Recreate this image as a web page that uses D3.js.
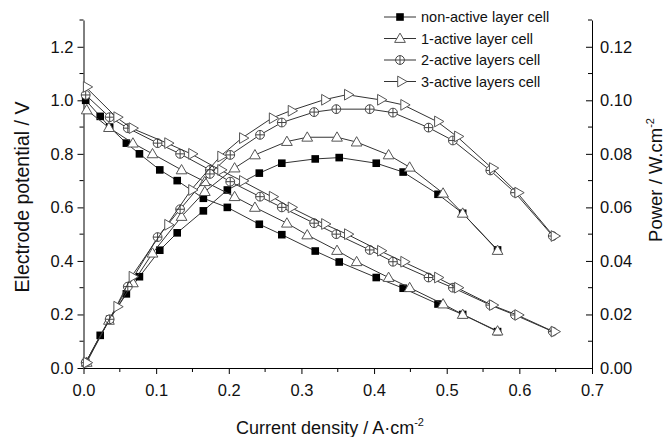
<!DOCTYPE html>
<html>
<head>
<meta charset="utf-8">
<script src="https://cdnjs.cloudflare.com/ajax/libs/d3/7.8.5/d3.min.js"></script>
<style>
  body { margin: 0; background: #fff; }
  svg { font-family: "Liberation Sans", Arial, sans-serif; }
</style>
</head>
<body>
<div id="chart"></div>
<script>
const seriesNames = ['non-active layer cell', '1-active layer cell', '2-active layers cell', '3-active layers cell']

const currentNon = [0.003, 0.023, 0.036, 0.059, 0.077, 0.105, 0.129, 0.165, 0.198, 0.242, 0.273, 0.319, 0.352, 0.403, 0.44, 0.488, 0.522, 0.57]
const voltageNon = [1.00, 0.94, 0.90, 0.84, 0.80, 0.74, 0.70, 0.634, 0.60, 0.537, 0.498, 0.437, 0.396, 0.338, 0.298, 0.239, 0.20, 0.136]
const powerNon = [0.002, 0.0122, 0.0182, 0.0277, 0.0341, 0.044, 0.0505, 0.0587, 0.0665, 0.0728, 0.0765, 0.0781, 0.0786, 0.0765, 0.0732, 0.0649, 0.0578, 0.0441]

const current1 = [0.0044, 0.035, 0.068, 0.095, 0.135, 0.167, 0.208, 0.236, 0.28, 0.308, 0.349, 0.376, 0.42, 0.449, 0.495, 0.522, 0.57]
const voltage1 = [0.964, 0.898, 0.84, 0.80, 0.74, 0.696, 0.64, 0.60, 0.541, 0.497, 0.439, 0.397, 0.338, 0.30, 0.239, 0.20, 0.138]
const power1 = [0.0021, 0.0178, 0.0318, 0.0429, 0.0566, 0.0659, 0.0747, 0.0796, 0.0846, 0.0862, 0.0862, 0.0844, 0.0796, 0.075, 0.0653, 0.0578, 0.0439]

const current2 = [0.003, 0.036, 0.061, 0.102, 0.133, 0.174, 0.202, 0.243, 0.273, 0.3175, 0.348, 0.394, 0.426, 0.475, 0.5085, 0.56, 0.594, 0.646]
const voltage2 = [1.02, 0.937, 0.896, 0.84, 0.80, 0.74, 0.696, 0.64, 0.60, 0.541, 0.50, 0.441, 0.397, 0.338, 0.30, 0.235, 0.198, 0.136]
const power2 = [0.002, 0.0182, 0.0304, 0.0489, 0.0593, 0.0725, 0.0796, 0.0871, 0.0917, 0.0956, 0.0967, 0.0967, 0.0954, 0.0898, 0.085, 0.0738, 0.0655, 0.0493]

const current3 = [0.003, 0.045, 0.066, 0.115, 0.148, 0.188, 0.218, 0.259, 0.285, 0.331, 0.3625, 0.408, 0.44, 0.4865, 0.514, 0.562, 0.597, 0.647]
const voltage3 = [1.05, 0.937, 0.896, 0.84, 0.80, 0.74, 0.699, 0.64, 0.60, 0.538, 0.50, 0.438, 0.397, 0.338, 0.30, 0.235, 0.198, 0.136]
const power3 = [0.002, 0.0229, 0.0341, 0.0535, 0.0665, 0.079, 0.0859, 0.0933, 0.0961, 0.1002, 0.1021, 0.1002, 0.0983, 0.0921, 0.0865, 0.0747, 0.0655, 0.0493]

const xTicks = [0, 0.1, 0.2, 0.3, 0.4, 0.5, 0.6, 0.7]
const yTicks = [0, 0.2, 0.4, 0.6, 0.8, 1.0, 1.2]
const pTicks = [0, 0.02, 0.04, 0.06, 0.08, 0.10, 0.12]

;(function(){
  const width = 668, height = 437
  const left = 83.5, right = 592, top = 20, bottom = 368

  const x = d3.scaleLinear().domain([0, 0.7]).range([left, right])
  const y = d3.scaleLinear().domain([0, 1.3]).range([bottom, top])
  const yp = d3.scaleLinear().domain([0, 0.13]).range([bottom, top])

  const svg = d3.select('#chart').append('svg')
    .attr('width', width).attr('height', height)

  const minor = (a, b, step) => d3.range(a, b + 1e-9, step)

  // bottom axis
  const xAxis = svg.append('g').attr('transform', `translate(0,${bottom})`)
    .call(d3.axisBottom(x).tickValues(xTicks).tickFormat(d3.format('.1f')).tickSize(6).tickSizeOuter(0))
  xAxis.selectAll('.tick text').attr('font-size', 16.5).attr('dy', '0.71em').attr('y', 16)
  xAxis.append('g').selectAll('line').data(minor(0.05, 0.65, 0.1)).enter().append('line')
    .attr('x1', d => x(d)).attr('x2', d => x(d)).attr('y1', 0).attr('y2', 4).attr('stroke', '#000')

  // left axis
  const yAxis = svg.append('g').attr('transform', `translate(${left},0)`)
    .call(d3.axisLeft(y).tickValues(yTicks).tickFormat(d3.format('.1f')).tickSize(6).tickSizeOuter(0))
  yAxis.selectAll('.tick text').attr('font-size', 16.5).attr('x', -10)
  yAxis.append('g').selectAll('line').data(minor(0.1, 1.3, 0.2)).enter().append('line')
    .attr('y1', d => y(d)).attr('y2', d => y(d)).attr('x1', 0).attr('x2', -4).attr('stroke', '#000')

  // right axis, ticks inward
  const pAxis = svg.append('g').attr('transform', `translate(${right},0)`)
    .call(d3.axisRight(yp).tickValues(pTicks).tickFormat(d3.format('.2f')).tickSize(-6).tickSizeOuter(0))
  pAxis.selectAll('.tick text').attr('font-size', 16.5).attr('x', 8)
  pAxis.append('g').selectAll('line').data(minor(0.01, 0.13, 0.02)).enter().append('line')
    .attr('y1', d => yp(d)).attr('y2', d => yp(d)).attr('x1', 0).attr('x2', -4).attr('stroke', '#000')

  svg.selectAll('.domain').attr('stroke', '#000')
  svg.selectAll('.tick line').attr('stroke', '#000')
  svg.selectAll('.tick text').attr('fill', '#111')

  // titles
  const xt = svg.append('text').attr('x', 330).attr('y', 434).attr('text-anchor', 'middle')
    .attr('font-size', 18).attr('fill', '#111')
  xt.append('tspan').text('Current density / A·cm')
  xt.append('tspan').text('-2').attr('font-size', 11).attr('dy', -8)

  svg.append('text').attr('transform', 'translate(29,197) rotate(-90)').attr('text-anchor', 'middle')
    .attr('font-size', 19.5).attr('fill', '#111').text('Electrode potential / V')

  const pt = svg.append('text').attr('transform', 'translate(662,180) rotate(-90)').attr('text-anchor', 'middle')
    .attr('font-size', 18.5).attr('fill', '#111')
  pt.append('tspan').text('Power / W.cm')
  pt.append('tspan').text('-2').attr('font-size', 11).attr('dy', -8)

  // markers
  const drawMarker = (g, type) => {
    if (type === 0) {
      g.append('rect').attr('x', -3.8).attr('y', -3.8).attr('width', 7.6).attr('height', 7.6).attr('fill', '#000')
    } else if (type === 1) {
      g.append('path').attr('d', d3.symbol(d3.symbolTriangle, 50)()).attr('transform', 'translate(0,0.8)')
        .attr('fill', '#fff').attr('stroke', '#555').attr('stroke-width', 1)
    } else if (type === 2) {
      g.append('circle').attr('r', 4.4).attr('fill', '#fff').attr('stroke', '#444').attr('stroke-width', 1)
      g.append('path').attr('d', 'M-4.4,0H4.4M0,-4.4V4.4').attr('stroke', '#444').attr('stroke-width', 1)
    } else {
      g.append('path').attr('d', d3.symbol(d3.symbolTriangle, 50)()).attr('transform', 'translate(0.8,0) rotate(90)')
        .attr('fill', '#fff').attr('stroke', '#555').attr('stroke-width', 1)
    }
  }

  const allSeries = [
    {current: currentNon, voltage: voltageNon, power: powerNon},
    {current: current1, voltage: voltage1, power: power1},
    {current: current2, voltage: voltage2, power: power2},
    {current: current3, voltage: voltage3, power: power3},
  ]

  const line = d3.line()

  allSeries.forEach((s, k) => {
    const vPts = s.current.map((c, i) => [x(c), y(s.voltage[i])])
    const pPts = s.current.map((c, i) => [x(c), yp(s.power[i])])
    ;[vPts, pPts].forEach(pts => {
      svg.append('path').attr('d', line(pts)).attr('fill', 'none').attr('stroke', '#333').attr('stroke-width', 1)
      svg.append('g').selectAll('g').data(pts).enter().append('g')
        .attr('transform', d => `translate(${d[0]},${d[1]})`)
        .each(function () { drawMarker(d3.select(this), k) })
    })
  })

  // legend
  const legend = svg.append('g')
  seriesNames.forEach((name, k) => {
    const ly = 17 + k * 21.5
    legend.append('line').attr('x1', 384).attr('x2', 416).attr('y1', ly).attr('y2', ly)
      .attr('stroke', '#333').attr('stroke-width', 1)
    const m = legend.append('g').attr('transform', `translate(400,${ly})`)
    drawMarker(m, k)
    legend.append('text').attr('x', 421).attr('y', ly).attr('dy', '0.36em')
      .attr('font-size', 14.5).attr('fill', '#111').text(name)
  })
})()
</script>
</body>
</html>
